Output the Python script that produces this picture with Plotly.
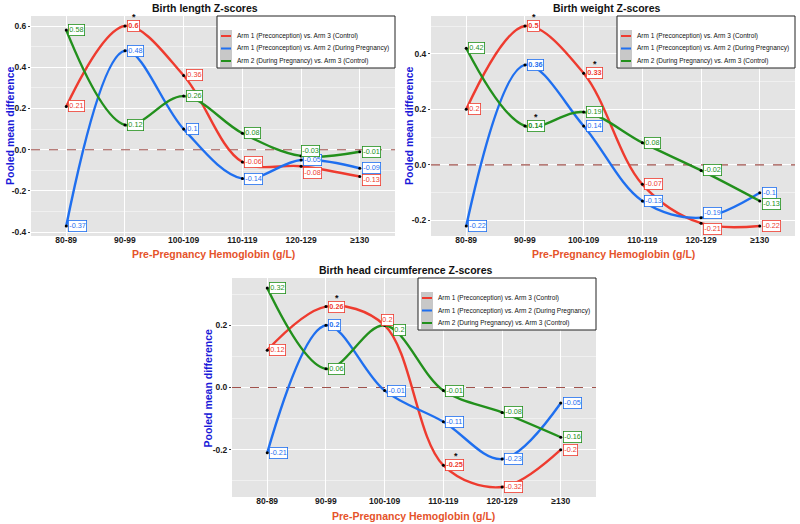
import plotly.graph_objects as go

categories = ["80-89", "90-99", "100-109", "110-119", "120-129", "≥130"]
series_names = [
    "Arm 1 (Preconception) vs. Arm 3 (Control)",
    "Arm 1 (Preconception) vs. Arm 2 (During Pregnancy)",
    "Arm 2 (During Pregnancy) vs. Arm 3 (Control)",
]
series_colors = ["#EE3B2F", "#1F6FEF", "#22901C"]

# Birth length Z-scores
length_a1a3 = [0.21, 0.6, 0.36, -0.06, -0.08, -0.13]
length_a1a2 = [-0.37, 0.48, 0.1, -0.14, -0.05, -0.09]
length_a2a3 = [0.58, 0.12, 0.26, 0.08, -0.03, -0.01]
# Birth weight Z-scores
weight_a1a3 = [0.2, 0.5, 0.33, -0.07, -0.21, -0.22]
weight_a1a2 = [-0.22, 0.36, 0.14, -0.13, -0.19, -0.1]
weight_a2a3 = [0.42, 0.14, 0.19, 0.08, -0.02, -0.13]
# Birth head circumference Z-scores
head_a1a3 = [0.12, 0.26, 0.2, -0.25, -0.32, -0.2]
head_a1a2 = [-0.21, 0.2, -0.01, -0.11, -0.23, -0.05]
head_a2a3 = [0.32, 0.06, 0.2, -0.01, -0.08, -0.16]

# (series index, category index) flags
length_star = [(0, 1)]
weight_star = [(0, 1), (0, 2), (2, 1)]
head_star = [(0, 1), (0, 3)]
length_bold = [(0, 1)]
weight_bold = [(0, 1), (0, 2), (2, 1), (1, 1)]
head_bold = [(0, 1), (0, 3), (1, 1)]

# label nudges in pixels (xshift, yshift)
length_nudge = {(2, 4): (0, 5), (0, 4): (2, -7), (0, 5): (2, -3)}
weight_nudge = {(1, 4): (2, 5), (0, 4): (2, -6), (2, 5): (2, -3)}
head_nudge = {(0, 2): (-4, 5), (2, 2): (8, -5)}

length_yticks = [-0.4, -0.2, 0.0, 0.2, 0.4, 0.6]
weight_yticks = [-0.2, 0.0, 0.2, 0.4]
head_yticks = [-0.2, 0.0, 0.2]

titles = ["Birth length Z-scores", "Birth weight Z-scores", "Birth head circumference Z-scores"]
x_title = "Pre-Pregnancy Hemoglobin (g/L)"
y_title = "Pooled mean difference"

W, H = 800, 524
FONT = "Liberation Sans, Arial, sans-serif"


def px_x(p):
    return p / W


def px_y(p):
    return 1 - p / H


# panel pixel boxes: left, right, top, bottom
panels = [
    dict(box=(31, 395, 16, 236), data=[length_a1a3, length_a1a2, length_a2a3], star=length_star,
         bold=length_bold, nudge=length_nudge, yticks=length_yticks, title_xy=(205, 8),
         ytitle_x=10, xtitle_y=254),
    dict(box=(431, 795, 16, 236), data=[weight_a1a3, weight_a1a2, weight_a2a3], star=weight_star,
         bold=weight_bold, nudge=weight_nudge, yticks=weight_yticks, title_xy=(607, 8),
         ytitle_x=409, xtitle_y=254),
    dict(box=(232, 596, 278, 497), data=[head_a1a3, head_a1a2, head_a2a3], star=head_star,
         bold=head_bold, nudge=head_nudge, yticks=head_yticks, title_xy=(406, 270),
         ytitle_x=207, xtitle_y=516),
]


def text_width(s, size):
    w = 0
    for ch in s:
        if ch in ".":
            w += 0.278
        elif ch == "-":
            w += 0.333
        else:
            w += 0.556
    return w * size


fig = go.Figure()
annotations = []
shapes = []
layout = {}
xs = list(range(len(categories)))
XR = [-0.6, 5.6]
LBL = 7.3
TICKFONT = dict(family=FONT, size=8.5, color="#1a1a1a", weight="bold")

for pi, p in enumerate(panels):
    sfx = "" if pi == 0 else str(pi + 1)
    xref, yref = "x" + sfx, "y" + sfx
    l, r, t, b = p["box"]
    allv = [v for s in p["data"] for v in s]
    lo, hi = min(allv), max(allv)
    pad = (hi - lo) * 0.05
    yr = [lo - pad, hi + pad]
    minor_vals = [round(v * 0.1, 2) for v in range(-9, 10) if v % 2 != 0 and yr[0] <= v * 0.1 <= yr[1]]

    layout["xaxis" + sfx] = dict(
        domain=[px_x(l), px_x(r)], anchor=yref, range=XR,
        tickmode="array", tickvals=xs, ticktext=categories,
        showgrid=True, gridcolor="white", gridwidth=1.1, zeroline=False,
        ticks="", ticklabelstandoff=-3,
        tickfont=TICKFONT, showline=False,
    )
    layout["yaxis" + sfx] = dict(
        domain=[px_y(b), px_y(t)], anchor=xref, range=yr,
        tickmode="array", tickvals=p["yticks"], ticktext=[f"{v:.1f}" for v in p["yticks"]],
        showgrid=True, gridcolor="white", gridwidth=1.1, zeroline=False,
        minor=dict(tickmode="array", tickvals=minor_vals, showgrid=True, gridcolor="#F0F0F0", gridwidth=0.6),
        ticks="outside", ticklen=2, tickcolor="#444",
        tickfont=TICKFONT, showline=False,
    )

    # dashed reference line at zero (drawn below the series)
    fig.add_trace(go.Scatter(x=XR, y=[0, 0], mode="lines", line=dict(color="#A0524C", width=1.1, dash="dash"),
                             xaxis=xref, yaxis=yref, showlegend=False, hoverinfo="skip", cliponaxis=True))

    for si, series in enumerate(p["data"]):
        col = series_colors[si]
        fig.add_trace(go.Scatter(x=xs, y=series, mode="lines", line=dict(color=col, width=2.4, shape="spline", smoothing=1.0),
                                 xaxis=xref, yaxis=yref, showlegend=False, hoverinfo="skip"))
        fig.add_trace(go.Scatter(x=xs, y=series, mode="markers", marker=dict(color="black", size=3),
                                 xaxis=xref, yaxis=yref, showlegend=False, hoverinfo="skip"))
        for ci, v in enumerate(series):
            txt = f"{v:g}"
            xsft, ysft = p["nudge"].get((si, ci), (2, 0))
            bold = (si, ci) in p["bold"]
            annotations.append(dict(
                x=ci, y=v, xref=xref, yref=yref, text=f"<b>{txt}</b>" if bold else txt,
                showarrow=False, xanchor="left", yanchor="middle", xshift=xsft, yshift=ysft,
                font=dict(family=FONT, size=LBL, color=col), bgcolor="white",
                bordercolor=col, borderwidth=0.8, borderpad=0.5,
            ))
            if (si, ci) in p["star"]:
                annotations.append(dict(
                    x=ci, y=v, xref=xref, yref=yref, text="<b>*</b>", showarrow=False,
                    xanchor="center", yanchor="middle",
                    xshift=xsft + text_width(txt, LBL) / 2 + 2, yshift=ysft + 9,
                    font=dict(family=FONT, size=9, color="#111"),
                ))

    # titles
    tx, ty = p["title_xy"]
    annotations.append(dict(x=px_x(tx), y=px_y(ty), xref="paper", yref="paper", text=f"<b>{titles[pi]}</b>",
                            showarrow=False, xanchor="center", yanchor="middle",
                            font=dict(family=FONT, size=10.5, color="#111")))
    annotations.append(dict(x=px_x((l + r) / 2), y=px_y(p["xtitle_y"]), xref="paper", yref="paper",
                            text=f"<b>{x_title}</b>", showarrow=False, xanchor="center", yanchor="middle",
                            font=dict(family=FONT, size=10.5, color="#E5532A")))
    annotations.append(dict(x=px_x(p["ytitle_x"]), y=px_y((t + b) / 2), xref="paper", yref="paper",
                            text=f"<b>{y_title}</b>", showarrow=False, xanchor="center", yanchor="middle",
                            textangle=-90, font=dict(family=FONT, size=10.5, color="#1A1AD8")))

    # legend box (manual)
    bx0, bx1, by0, by1 = r - 178, r, t, t + 52
    shapes.append(dict(type="rect", xref="paper", yref="paper", x0=px_x(bx0), x1=px_x(bx1),
                       y0=px_y(by1), y1=px_y(by0), fillcolor="white", line=dict(color="#222", width=1), layer="above"))
    shapes.append(dict(type="rect", xref="paper", yref="paper", x0=px_x(bx0 + 3), x1=px_x(bx0 + 15),
                       y0=px_y(by0 + 51), y1=px_y(by0 + 14), fillcolor="#C8C8C8", line=dict(width=0), layer="above"))
    for si, name in enumerate(series_names):
        ly = by0 + 20 + si * 12.5
        shapes.append(dict(type="line", xref="paper", yref="paper", x0=px_x(bx0 + 4), x1=px_x(bx0 + 14),
                           y0=px_y(ly), y1=px_y(ly), line=dict(color=series_colors[si], width=2), layer="above"))
        annotations.append(dict(x=px_x(bx0 + 18), y=px_y(ly), xref="paper", yref="paper", text=name,
                                showarrow=False, xanchor="left", yanchor="middle",
                                font=dict(family=FONT, size=6.5, color="#111")))

fig.update_layout(
    width=W, height=H, margin=dict(l=0, r=0, t=0, b=0),
    paper_bgcolor="white", plot_bgcolor="#E4E4E4",
    showlegend=False, annotations=annotations, shapes=shapes, **layout,
)
fig.write_html("out.html")
